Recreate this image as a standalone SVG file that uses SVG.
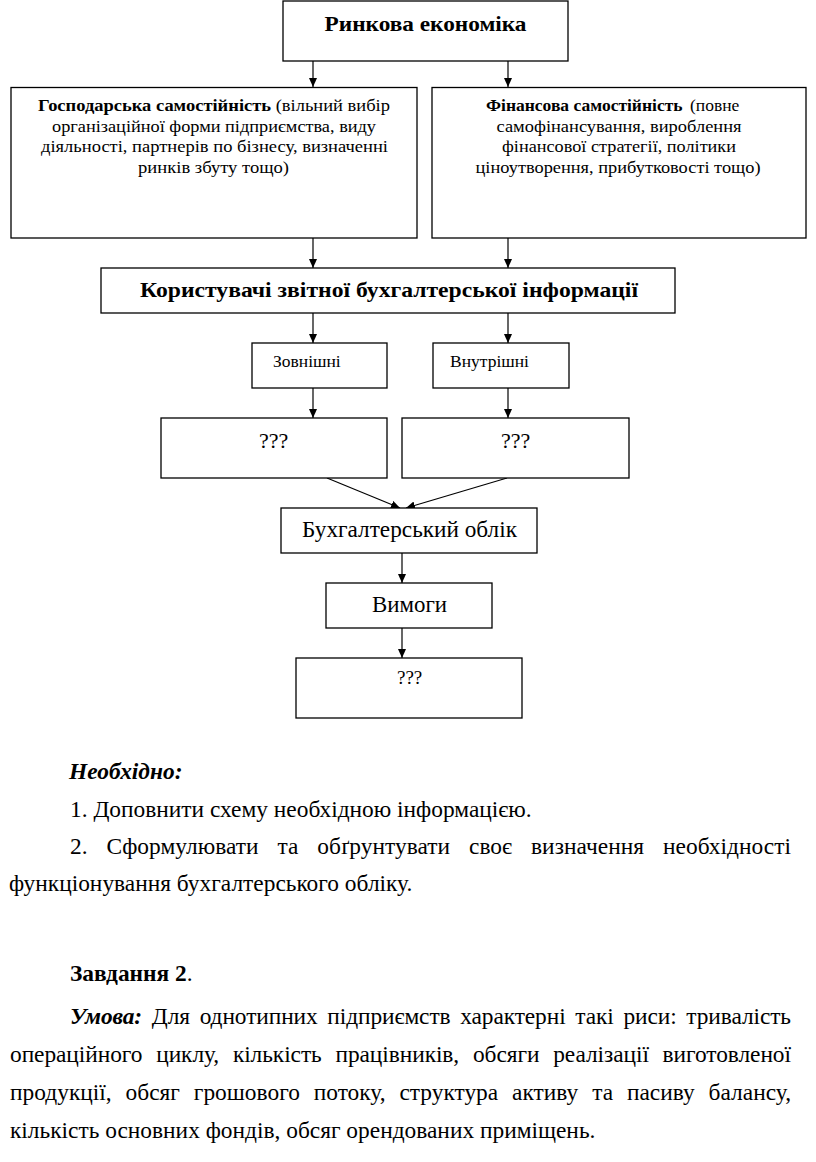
<svg xmlns="http://www.w3.org/2000/svg" width="816" height="1162" viewBox="0 0 816 1162">
<defs>
<marker id="ah" markerUnits="userSpaceOnUse" markerWidth="10" markerHeight="10" refX="9" refY="4" orient="auto">
<path d="M0,0 L9,4 L0,8 Z" fill="#000"/>
</marker>
<style>
.box{fill:#fff;stroke:#000;stroke-width:1.3}
.con{stroke:#000;stroke-width:1.2;fill:none;marker-end:url(#ah)}
text{font-family:"Liberation Serif","Times New Roman","DejaVu Serif",serif;fill:#000}
.b{font-weight:bold}
.bi{font-weight:bold;font-style:italic}
.s18{font-size:17.5px}
.body{font-size:23.4px}
</style>
</defs>
<rect width="816" height="1162" fill="#fff"/>

<g id="connectors">
<line class="con" x1="313" y1="61" x2="313" y2="87"/>
<line class="con" x1="508" y1="61" x2="508" y2="87"/>
<line class="con" x1="313" y1="238" x2="313" y2="268"/>
<line class="con" x1="508" y1="238" x2="508" y2="268"/>
<line class="con" x1="313" y1="313" x2="313" y2="343"/>
<line class="con" x1="508" y1="313" x2="508" y2="343"/>
<line class="con" x1="313" y1="388" x2="313" y2="418"/>
<line class="con" x1="508" y1="388" x2="508" y2="418"/>
<line class="con" x1="327" y1="478" x2="400" y2="508"/>
<line class="con" x1="507" y1="478" x2="406" y2="508"/>
<line class="con" x1="402" y1="553" x2="402" y2="583"/>
<line class="con" x1="402" y1="628" x2="402" y2="658"/>
</g>

<g id="node-market">
<rect class="box" x="283" y="1" width="285" height="60"/>
<text class="b" x="425.5" y="31" font-size="22" text-anchor="middle" textLength="202" lengthAdjust="spacingAndGlyphs">Ринкова економіка</text>
</g>

<g id="node-gosp">
<rect class="box" x="11" y="87.5" width="406" height="150.5"/>
<text class="s18" x="214" y="111" text-anchor="middle" textLength="352" lengthAdjust="spacingAndGlyphs"><tspan class="b">Господарська самостійність</tspan> (вільний вибір</text>
<text class="s18" x="214" y="131.5" text-anchor="middle" textLength="324" lengthAdjust="spacingAndGlyphs">організаційної форми підприємства, виду</text>
<text class="s18" x="214.5" y="152" text-anchor="middle" textLength="347" lengthAdjust="spacingAndGlyphs">діяльності, партнерів по бізнесу, визначенні</text>
<text class="s18" x="213.5" y="172.5" text-anchor="middle" textLength="151" lengthAdjust="spacingAndGlyphs">ринків збуту тощо)</text>
</g>

<g id="node-fin">
<rect class="box" x="432" y="87.5" width="374" height="150.5"/>
<text class="s18 b" x="486" y="111">Фінансова самостійність</text>
<text class="s18" x="690" y="111">(повне</text>
<text class="s18" x="619" y="131.5" text-anchor="middle" textLength="245" lengthAdjust="spacingAndGlyphs">самофінансування, вироблення</text>
<text class="s18" x="619" y="152" text-anchor="middle" textLength="234" lengthAdjust="spacingAndGlyphs">фінансової стратегії, політики</text>
<text class="s18" x="618" y="172.5" text-anchor="middle" textLength="285" lengthAdjust="spacingAndGlyphs">ціноутворення, прибутковості тощо)</text>
</g>

<g id="node-users">
<rect class="box" x="101" y="268" width="574" height="45"/>
<text class="b" x="389" y="297" font-size="22" text-anchor="middle" textLength="498" lengthAdjust="spacingAndGlyphs">Користувачі звітної бухгалтерської інформації</text>
</g>

<g id="node-external">
<rect class="box" x="252" y="343" width="135" height="45"/>
<text class="s18" x="273" y="367">Зовнішні</text>
</g>

<g id="node-internal">
<rect class="box" x="433" y="343" width="136" height="45"/>
<text class="s18" x="450" y="367">Внутрішні</text>
</g>

<g id="node-q1">
<rect class="box" x="161" y="418" width="226" height="60"/>
<text x="259" y="448" font-size="22">???</text>
</g>

<g id="node-q2">
<rect class="box" x="402" y="418" width="227" height="60"/>
<text x="501" y="448" font-size="22">???</text>
</g>

<g id="node-accounting">
<rect class="box" x="281" y="508" width="256" height="45"/>
<text x="409.5" y="537" font-size="23" text-anchor="middle" textLength="215" lengthAdjust="spacingAndGlyphs">Бухгалтерський облік</text>
</g>

<g id="node-req">
<rect class="box" x="326" y="583" width="166" height="45"/>
<text x="409.5" y="612" font-size="23" text-anchor="middle" textLength="75" lengthAdjust="spacingAndGlyphs">Вимоги</text>
</g>

<g id="node-q3">
<rect class="box" x="296" y="658" width="226" height="60"/>
<text x="397" y="684" font-size="19">???</text>
</g>

<g id="body-text">
<text class="body bi" x="69" y="779">Необхідно:</text>
<text class="body" x="70" y="817">1. Доповнити схему необхідною інформацією.</text>
<text class="body" x="70" y="854" word-spacing="13" textLength="721" lengthAdjust="spacing">2. Сформулювати та обґрунтувати своє визначення необхідності</text>
<text class="body" x="9" y="891">функціонування бухгалтерського обліку.</text>
<text class="body" x="70" y="981"><tspan class="b">Завдання 2</tspan>.</text>
<text class="body" x="70" y="1024" word-spacing="4" textLength="721" lengthAdjust="spacing"><tspan class="bi">Умова:</tspan> Для однотипних підприємств характерні такі риси: тривалість</text>
<text class="body" x="10" y="1062" word-spacing="8" textLength="781" lengthAdjust="spacing">операційного циклу, кількість працівників, обсяги реалізації виготовленої</text>
<text class="body" x="10" y="1100" word-spacing="8" textLength="781" lengthAdjust="spacing">продукції, обсяг грошового потоку, структура активу та пасиву балансу,</text>
<text class="body" x="10" y="1138">кількість основних фондів, обсяг орендованих приміщень.</text>
</g>
</svg>
